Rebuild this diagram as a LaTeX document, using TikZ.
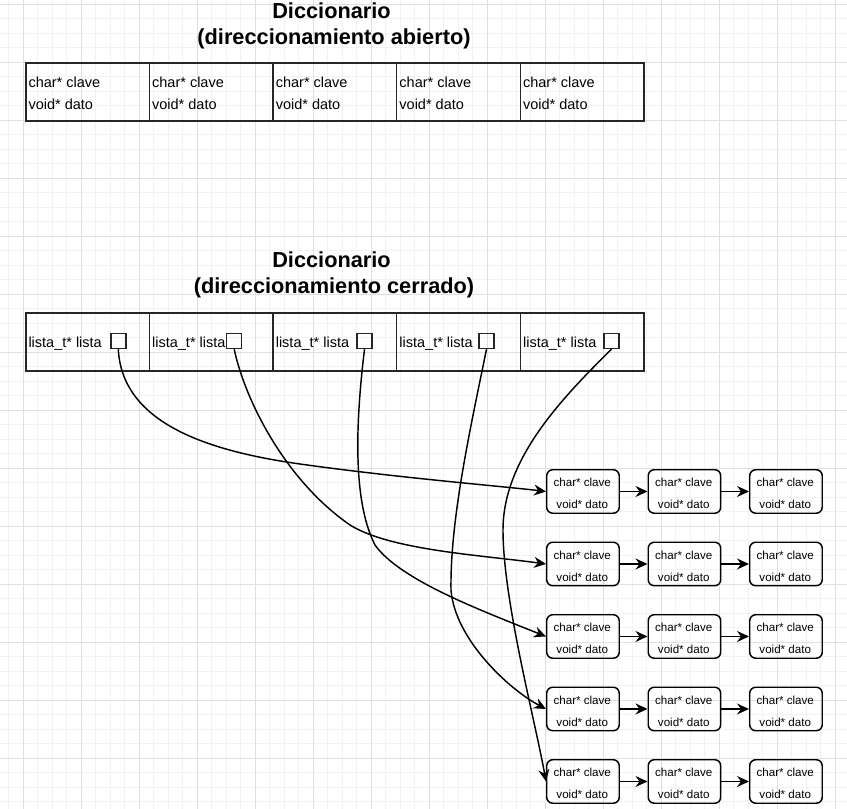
\documentclass[tikz,border=0pt]{standalone}
\usepackage{fontspec}
\setmainfont{Liberation Sans}
\usetikzlibrary{arrows.meta}
\begin{document}
\begin{tikzpicture}[x=1pt,y=-1pt,
  minorgrid/.style={draw=gray!10, line width=0.8pt},
  majorgrid/.style={draw=gray!25, line width=0.8pt},
  cell/.style={draw=black!85, line width=1.5pt, minimum width=123.65pt, minimum height=58pt, inner sep=0pt, anchor=north west},
  celltext/.style={font=\fontsize{14.5}{17}\selectfont, anchor=base west, inner sep=0pt},
  title/.style={font=\fontsize{21.75}{26}\selectfont\bfseries, anchor=base, inner sep=0pt},
  ptr/.style={draw=black!85, line width=1.45pt, minimum size=15pt, inner sep=0pt},
  lnode/.style={draw=black, line width=1.45pt, rounded corners=6pt, minimum width=72.5pt, minimum height=43.5pt, inner sep=0pt, anchor=north west},
  ltext/.style={font=\fontsize{11.6}{14}\selectfont, anchor=base, inner sep=0pt},
  arr/.style={draw=black, line width=1.45pt, -{Stealth[length=12pt,width=11pt,inset=4pt]}},
]
\useasboundingbox (0,0) rectangle (847,809);
\fill[white] (0,0) rectangle (847,809);
% grid
\foreach \k in {0,...,58} { \draw[minorgrid] ({8.8+14.5*\k},0) -- ({8.8+14.5*\k},809); }
\foreach \k in {0,...,55} { \draw[minorgrid] (0,{4.3+14.5*\k}) -- (847,{4.3+14.5*\k}); }
\foreach \k in {0,...,14} { \draw[majorgrid] ({23.3+58*\k},0) -- ({23.3+58*\k},809); }
\foreach \k in {0,...,13} { \draw[majorgrid] (0,{4.3+58*\k}) -- (847,{4.3+58*\k}); }

% titles
\node[title] (t1a) at (331.5,18.3) {Diccionario};
\node[title] (t1b) at (334,44.3) {(direccionamiento abierto)};
\node[title] (t2a) at (331.5,267.7) {Diccionario};
\node[title] (t2b) at (334,293.3) {(direccionamiento cerrado)};

% open addressing table
\foreach \i in {0,...,4} {
  \node[cell] (a\i) at ({25+123.65*\i},62.3) {};
  \node[celltext] (ak\i) at ({28.3+123.65*\i},87.3) {char* clave};
  \node[celltext] (ad\i) at ({28.3+123.65*\i},109.3) {void* dato};
}

% closed addressing table
\foreach \i in {0,...,4} {
  \node[cell] (b\i) at ({25+123.65*\i},312.3) {};
  \node[celltext] (bl\i) at ({28.3+123.65*\i},347) {lista\_t* lista};
}
\foreach \i/\sx in {1/118.3,2/234.2,3/364.5,4/486.5,5/611.5} {
  \node[ptr] (p\i) at (\sx,341) {};
}

% linked lists
\foreach \r in {1,...,5} {
  \foreach \c in {1,2,3} {
    \node[lnode] (n\r\c) at ({546+101.5*(\c-1)},{469+72.5*(\r-1)}) {};
    \node[ltext] (k\r\c) at ({582.25+101.5*(\c-1)},{486.7+72.5*(\r-1)}) {char* clave};
    \node[ltext] (d\r\c) at ({582.25+101.5*(\c-1)},{508.7+72.5*(\r-1)}) {void* dato};
  }
  \draw[arr] (n\r1.east) -- (n\r2.west);
  \draw[arr] (n\r2.east) -- (n\r3.west);
}

% curved connectors
\draw[arr] (p1.south) .. controls (122,420) and (200,450) .. (300,464) .. controls (400,478) and (500,486) .. (n11.west);
\draw[arr] (p2.south) .. controls (245,400) and (285,480) .. (350,525) .. controls (390,550) and (480,555) .. (n21.west);
\draw[arr] (p3.south) .. controls (356,420) and (352,500) .. (375,545) .. controls (400,580) and (480,610) .. (n31.west);
\draw[arr] (p4.south) .. controls (470,430) and (450,520) .. (451,590) .. controls (455,640) and (510,690) .. (n41.west);
\draw[arr] (p5.south) .. controls (560,400) and (503,460) .. (503,530) .. controls (503,600) and (535,720) .. (n51.west);
\end{tikzpicture}
\end{document}
